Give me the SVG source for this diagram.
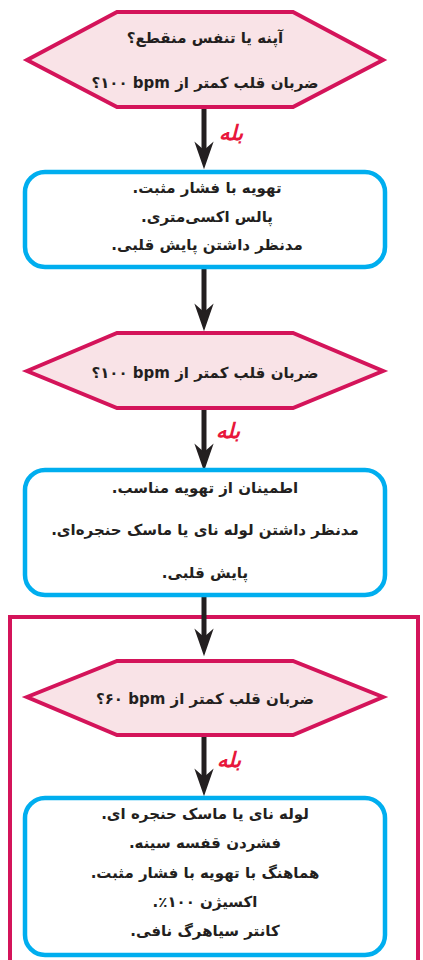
<svg xmlns="http://www.w3.org/2000/svg" width="423" height="960" viewBox="0 0 423 960">
<style>
.hex{fill:#f9e3e7;stroke:#d4145a;stroke-width:4;stroke-linejoin:miter}
.box{fill:#fff;stroke:#00aeef;stroke-width:4.5}
.frame{fill:none;stroke:#d4145a;stroke-width:4}
.t{font-family:"DejaVu Sans",sans-serif;font-weight:bold;font-size:15px;fill:#231f20;text-anchor:middle;direction:rtl}
.yes{font-family:"DejaVu Sans",sans-serif;font-weight:bold;font-style:italic;font-size:21px;fill:#e8173c;text-anchor:middle;direction:rtl}
.conn{stroke:#231f20;stroke-width:5;fill:none}
</style>
<defs>
<marker id="ah" markerUnits="userSpaceOnUse" markerWidth="30" markerHeight="22" viewBox="0 0 28 20" refX="8" refY="10" orient="auto">
<path d="M0,1 L26,10 L0,19 L8,10 Z" fill="#231f20"/>
</marker>
</defs>
<rect id="frame" class="frame" x="10" y="617" width="408" height="360"/>
<g id="connectors">
<line class="conn" x1="204" y1="109" x2="204" y2="150" marker-end="url(#ah)"/>
<line class="conn" x1="204" y1="269" x2="204" y2="312" marker-end="url(#ah)"/>
<line class="conn" x1="204" y1="410" x2="204" y2="452" marker-end="url(#ah)"/>
<line class="conn" x1="204" y1="597" x2="204" y2="637" marker-end="url(#ah)"/>
<line class="conn" x1="204" y1="737" x2="204" y2="777" marker-end="url(#ah)"/>
<text class="yes" x="231" y="140">بله</text>
<text class="yes" x="228" y="438">بله</text>
<text class="yes" x="229" y="767">بله</text>
</g>
<g id="q1">
<polygon class="hex" points="27,60 117,12 293,12 383,60 293,107 117,107"/>
<text class="t" x="205" y="43">آپنه یا تنفس منقطع؟</text>
<text class="t" x="205" y="88">ضربان قلب کمتر از bpm &#x200F;۱۰۰؟</text>
</g>
<g id="a1">
<rect class="box" x="25" y="172" width="360" height="95" rx="20"/>
<text class="t" x="207" y="193">تهویه با فشار مثبت.</text>
<text class="t" x="207" y="222">پالس اکسی‌متری.</text>
<text class="t" x="207" y="250">مدنظر داشتن پایش قلبی.</text>
</g>
<g id="q2">
<polygon class="hex" points="27,371 117,333 293,333 383,371 293,408 117,408"/>
<text class="t" x="205" y="378">ضربان قلب کمتر از bpm &#x200F;۱۰۰؟</text>
</g>
<g id="a2">
<rect class="box" x="25" y="470" width="360" height="125" rx="20"/>
<text class="t" x="205" y="493">اطمینان از تهویه مناسب.</text>
<text class="t" x="205" y="535">مدنظر داشتن لوله نای یا ماسک حنجره‌ای.</text>
<text class="t" x="205" y="578">پایش قلبی.</text>
</g>
<g id="q3">
<polygon class="hex" points="27,697 117,661 293,661 383,697 293,735 117,735"/>
<text class="t" x="205" y="704">ضربان قلب کمتر از bpm &#x200F;۶۰؟</text>
</g>
<g id="a3">
<rect class="box" x="25" y="798" width="360" height="157" rx="20"/>
<text class="t" x="205" y="819">لوله نای یا ماسک حنجره ای.</text>
<text class="t" x="205" y="848">فشردن قفسه سینه.</text>
<text class="t" x="205" y="878">هماهنگ با تهویه با فشار مثبت.</text>
<text class="t" x="205" y="907">اکسیژن ۱۰۰٪.</text>
<text class="t" x="205" y="936">کانتر سیاهرگ نافی.</text>
</g>
</svg>
